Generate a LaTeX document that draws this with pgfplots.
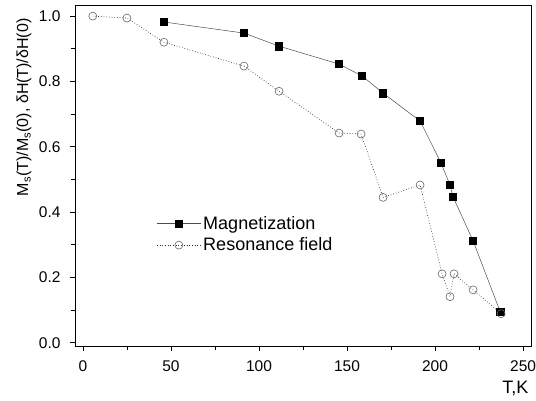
\documentclass[border=0pt]{standalone}
\usepackage{pgfplots}
\pgfplotsset{compat=1.18}
\usepackage{fontspec}
\setmainfont{Liberation Sans}
\begin{document}
\begin{tikzpicture}
\useasboundingbox (-75pt,-54pt) rectangle (461pt,346pt);
\begin{axis}[
  at={(0pt,0pt)}, anchor=south west,
  scale only axis, width=456pt, height=341pt,
  xmin=-4.5, xmax=254.5, ymin=-0.01, ymax=1.034,
  xtick={0,50,...,250}, minor xtick={25,75,...,225},
  ytick={0,0.2,...,1.0}, minor ytick={0.1,0.3,...,0.9},
  tick pos=left, tick align=outside,
  major tick length=5pt, minor tick length=3.5pt,
  every tick/.style={black, line width=0.8pt},
  axis line style={line width=0.9pt},
  /pgf/number format/assume math mode=true,
  /pgf/number format/.cd, fixed, fixed zerofill, precision=1, /pgfplots/.cd,
  xticklabel={\pgfmathprintnumber[fixed,precision=0]{\tick}},
  ticklabel style={font=\fontsize{15.5}{18}\selectfont},
  xticklabel style={yshift=-6pt},
  yticklabel style={xshift=-6pt},
  ylabel={M$_\mathrm{s}$(T)/M$_\mathrm{s}$(0), δH(T)/δH(0)},
  every axis y label/.style={at={(axis description cs:-0.112,0.70)}, anchor=center, rotate=90, font=\fontsize{16}{19}\selectfont},
  xlabel={T,K},
  xlabel style={font=\fontsize{18}{20}\selectfont, at={(axis description cs:1,0)}, anchor=north east, yshift=-32pt, xshift=1pt},
  legend style={draw=none, fill=none, at={(axis cs:40,0.40)}, anchor=north west, font=\fontsize{18}{21}\selectfont, row sep=3pt},
  legend cell align=left,
  legend image code/.code={
    \draw[#1] (0pt,0pt) -- (44pt,0pt);
    \path[#1, solid] plot coordinates {(22pt,0pt)};
  },
]
\addplot[color=black!70, line width=0.5pt, mark=square*, mark size=3.6pt,
  mark options={fill=black, draw=black, solid}]
coordinates {
(46,0.982) (91.5,0.948) (111.4,0.908) (145.5,0.853) (158.5,0.817)
(170.5,0.764) (191.5,0.679) (203.4,0.550) (208.5,0.483) (210.2,0.447)
(221.6,0.312) (237,0.095)
};
\addlegendentry{Magnetization}
\addplot[color=black!80, line width=0.7pt, dotted, mark=o, mark size=4pt,
  mark options={draw=black!60, fill=white, solid, line width=0.6pt}]
coordinates {
(5.6,1.0) (25,0.994) (46,0.92) (91.5,0.847) (111.4,0.77) (145.5,0.642)
(158,0.639) (170.5,0.445) (191.5,0.483) (204,0.211) (208.5,0.141)
(210.8,0.211) (221.6,0.162) (237.5,0.089)
};
\addlegendentry{Resonance field}
\end{axis}
\end{tikzpicture}
\end{document}
